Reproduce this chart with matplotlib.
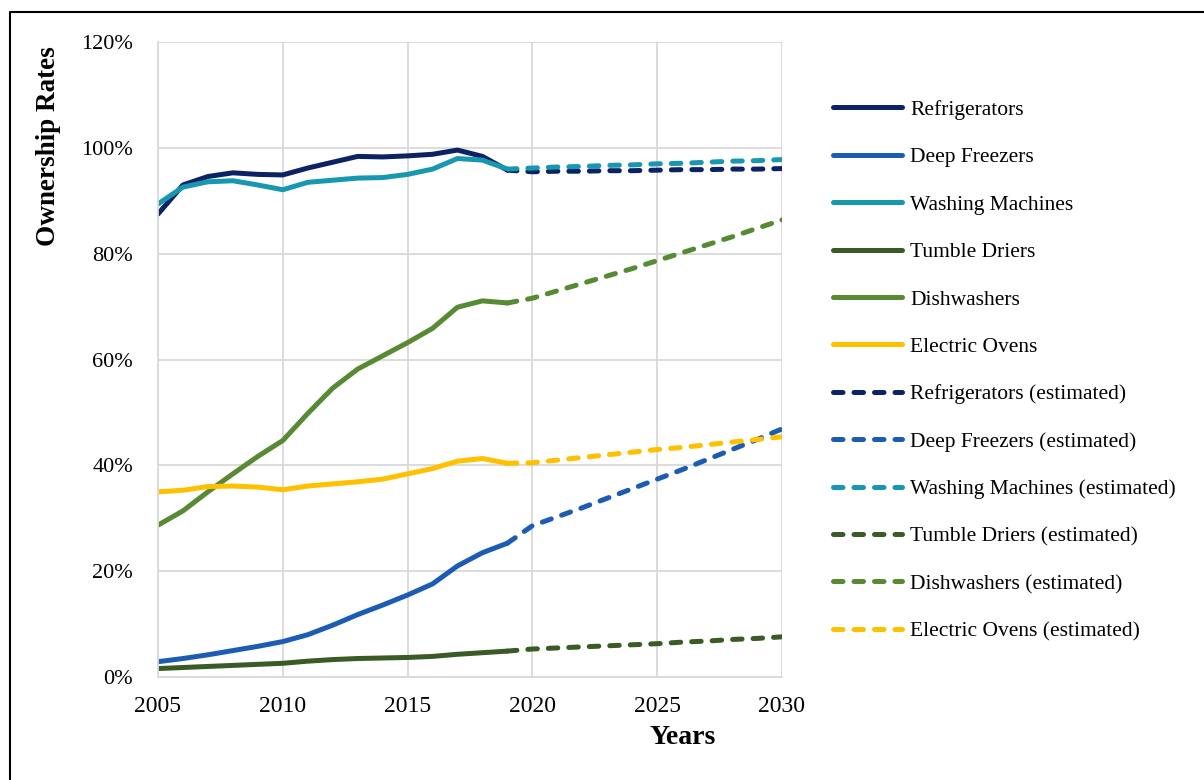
import matplotlib
matplotlib.use("Agg")
import matplotlib.pyplot as plt
from matplotlib.lines import Line2D
import numpy as np

plt.rcParams['font.family'] = ['Liberation Serif', 'DejaVu Serif']

# observed data 2005-2019 (%)
years = list(range(2005, 2020))
refrigerators = [87.5, 93.0, 94.6, 95.3, 95.0, 94.9, 96.2, 97.3, 98.4, 98.3, 98.5, 98.8, 99.6, 98.4, 95.8]
deep_freezers = [2.9, 3.5, 4.2, 5.0, 5.8, 6.7, 8.0, 9.8, 11.8, 13.6, 15.5, 17.6, 21.0, 23.5, 25.3]
washing_machines = [89.4, 92.6, 93.6, 93.8, 93.0, 92.1, 93.5, 93.9, 94.3, 94.4, 95.0, 96.0, 98.0, 97.7, 96.0]
tumble_driers = [1.6, 1.8, 2.0, 2.2, 2.4, 2.6, 3.0, 3.3, 3.5, 3.6, 3.7, 3.9, 4.3, 4.6, 4.9]
dishwashers = [28.7, 31.4, 35.0, 38.4, 41.7, 44.7, 49.8, 54.6, 58.2, 60.7, 63.2, 65.9, 69.9, 71.1, 70.7]
electric_ovens = [35.0, 35.3, 36.0, 36.1, 35.9, 35.4, 36.1, 36.5, 36.9, 37.4, 38.4, 39.4, 40.8, 41.3, 40.4]

# estimated 2019-2030 (%)
years_est = list(range(2019, 2031))
refrigerators_est = [95.8, 95.5, 95.6, 95.6, 95.7, 95.7, 95.8, 95.9, 95.9, 96.0, 96.0, 96.1]
deep_freezers_est = [25.3, 28.6, 30.3, 32.0, 33.8, 35.6, 37.4, 39.2, 41.1, 43.0, 44.9, 46.9]
washing_machines_est = [96.0, 96.2, 96.4, 96.5, 96.7, 96.8, 97.0, 97.1, 97.3, 97.5, 97.6, 97.8]
tumble_driers_est = [4.9, 5.3, 5.5, 5.7, 5.9, 6.1, 6.3, 6.6, 6.8, 7.1, 7.3, 7.6]
dishwashers_est = [70.7, 71.6, 73.0, 74.4, 75.8, 77.2, 78.7, 80.2, 81.7, 83.2, 84.8, 86.4]
electric_ovens_est = [40.4, 40.5, 41.0, 41.5, 42.0, 42.5, 43.0, 43.4, 43.9, 44.4, 44.9, 45.4]

names = ["Refrigerators", "Deep Freezers", "Washing Machines",
         "Tumble Driers", "Dishwashers", "Electric Ovens"]
colors = ["#0B2264", "#1C5DB3", "#1897B0", "#3A5A26", "#588A34", "#FFC000"]
observed = [refrigerators, deep_freezers, washing_machines, tumble_driers, dishwashers, electric_ovens]
estimated = [refrigerators_est, deep_freezers_est, washing_machines_est,
             tumble_driers_est, dishwashers_est, electric_ovens_est]

fig = plt.figure(figsize=(12.04, 7.8), dpi=100)
ax = fig.add_axes([0.1312, 0.132, 0.5183, 0.814])

handles = []
for name, c, vals in zip(names, colors, observed):
    h, = ax.plot(years, vals, color=c, lw=3.6, solid_capstyle="round",
                 solid_joinstyle="round", label=name)
    handles.append(h)
for name, c, vals in zip(names, colors, estimated):
    h, = ax.plot(years_est, vals, color=c, lw=3.6, linestyle=(0, (1.9, 2.2)),
                 dash_capstyle="round", label=name + " (estimated)")
    handles.append(h)

ax.set_xlim(2005, 2030)
ax.set_ylim(0, 120)
ax.set_xticks([2005, 2010, 2015, 2020, 2025, 2030])
ax.set_yticks(np.arange(0, 121, 20))
ax.set_yticklabels([f"{v}%" for v in range(0, 121, 20)])
ax.grid(True, color="#d9d9d9", lw=1.3)
ax.set_axisbelow(True)
for s in ["top", "right"]:
    ax.spines[s].set_visible(False)
for s in ["left", "bottom"]:
    ax.spines[s].set_color("#d9d9d9")
    ax.spines[s].set_linewidth(1.3)
ax.tick_params(axis="x", length=0, labelsize=17, pad=14)
ax.tick_params(axis="y", length=0, labelsize=16, pad=18)

fig.text(0.04, 0.813, "Ownership Rates", rotation=90, ha="center", va="center",
         fontsize=19.5, fontweight="bold")
fig.text(0.567, 0.055, "Years", ha="center", va="center", fontsize=20, fontweight="bold")

fig.legend(handles=handles, loc="upper left", bbox_to_anchor=(0.692, 0.872),
           frameon=False, fontsize=15.5, handlelength=3.2, handletextpad=0.37,
           labelspacing=1.27, borderpad=0, borderaxespad=0)

# frame on the left and top edges only
fig.add_artist(Line2D([10 / 1204, 10 / 1204, 1.0], [0.0, 1 - 12 / 780, 1 - 12 / 780],
                      transform=fig.transFigure, color="black", lw=1.5))

fig.savefig("out.png", dpi=100)
